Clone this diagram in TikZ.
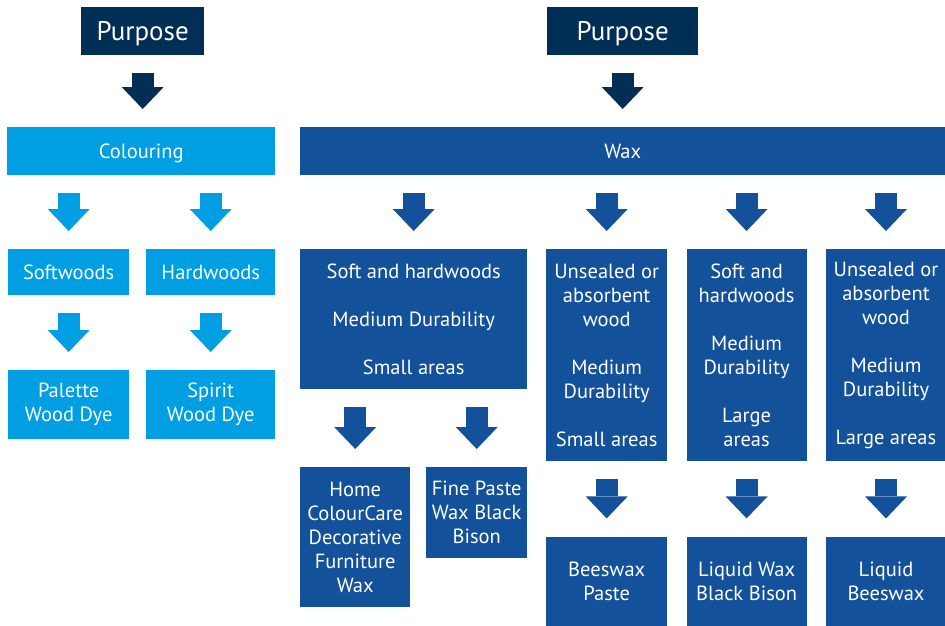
\documentclass[tikz,border=0pt]{standalone}
\usepackage{fontspec}
\setmainfont{PT Sans}
\usepackage{tikz}
\usetikzlibrary{arrows.meta, positioning}
\definecolor{purposeblue}{HTML}{002E55}
\definecolor{colourblue}{HTML}{009FE3}
\definecolor{waxblue}{HTML}{13529B}

\begin{document}
\begin{tikzpicture}[x=1pt,y=-1pt,node distance=19pt,
    box/.style={rectangle,inner sep=0pt,text=white,align=center,anchor=north west,
      font=\fontsize{20.5}{24}\selectfont},
    purpose/.style={box,fill=purposeblue,minimum height=48pt,text height=19pt,text depth=0pt,
      font=\fontsize{27}{32}\selectfont},
    header/.style={minimum height=48pt,text height=14pt,text depth=0pt},
    colourbox/.style={box,fill=colourblue},
    waxbox/.style={box,fill=waxblue},
    flow/.style={draw=#1,line width=22pt,shorten <=18pt,shorten >=18pt,
      -{Triangle[width=42pt,length=22pt,line width=0pt]}}]
  \useasboundingbox (0,0) rectangle (945,625);

  % top of both trees
  \node[purpose,minimum width=123pt] (purposeL) at (81,7) {Purpose};
  \node[purpose,minimum width=151pt] (purposeR) at (547,7) {Purpose};
  \node[colourbox,header,minimum width=268pt] (colouring) at (7,127) {Colouring};
  \node[waxbox,header,minimum width=645pt] (wax) at (300,127) {Wax};

  % colouring branch
  \node[colourbox,minimum width=121pt,minimum height=46pt] (softwoods) at (8,249) {Softwoods};
  \node[colourbox,minimum width=129pt,minimum height=46pt] (hardwoods) at (146,249) {Hardwoods};
  \node[colourbox,minimum width=121pt,minimum height=69pt] (palette) at (8,370) {Palette\\Wood Dye};
  \node[colourbox,minimum width=129pt,minimum height=69pt] (spirit) at (146,370) {Spirit\\Wood Dye};

  % wax branch
  \node[waxbox,minimum width=227pt,minimum height=140pt] (smallwax) at (300,249)
    {Soft and hardwoods\\[24pt]Medium Durability\\[24pt]Small areas};
  \node[waxbox,minimum width=121pt,minimum height=212pt] (unsealedsmall) at (546,249)
    {Unsealed or\\absorbent\\wood\\[24pt]Medium\\Durability\\[24pt]Small areas};
  \node[waxbox,minimum width=120pt,minimum height=212pt] (softlarge) [right=of unsealedsmall]
    {Soft and\\hardwoods\\[24pt]Medium\\Durability\\[24pt]Large\\areas};
  \node[waxbox,minimum width=120pt,minimum height=212pt] (unsealedlarge) [right=of softlarge]
    {Unsealed or\\absorbent\\wood\\[24pt]Medium\\Durability\\[24pt]Large areas};

  \node[waxbox,minimum width=110pt,minimum height=140pt] (homecare) at (300,467)
    {Home\\ColourCare\\Decorative\\Furniture\\Wax};
  \node[waxbox,minimum width=101pt,minimum height=91pt] (finepaste) at (426,467)
    {Fine Paste\\Wax Black\\Bison};
  \node[waxbox,minimum width=121pt,minimum height=89pt] (beeswax) [below=75pt of unsealedsmall]
    {Beeswax\\Paste};
  \node[waxbox,minimum width=120pt,minimum height=89pt] (liquidwax) [below=75pt of softlarge]
    {Liquid Wax\\Black Bison};
  \node[waxbox,minimum width=120pt,minimum height=89pt] (liquidbees) [below=75pt of unsealedlarge]
    {Liquid\\Beeswax};

  % block arrows
  \draw[flow=purposeblue] (purposeL.south) -- (purposeL.south |- colouring.north);
  \draw[flow=purposeblue] (purposeR.south) -- (purposeR.south |- wax.north);
  \draw[flow=colourblue] (colouring.south -| softwoods.north) -- (softwoods.north);
  \draw[flow=colourblue] (colouring.south -| hardwoods.north) -- (hardwoods.north);
  \draw[flow=colourblue] (softwoods.south) -- (palette.north);
  \draw[flow=colourblue] (hardwoods.south) -- (spirit.north);
  \draw[flow=waxblue] (wax.south -| smallwax.north) -- (smallwax.north);
  \draw[flow=waxblue] (wax.south -| unsealedsmall.north) -- (unsealedsmall.north);
  \draw[flow=waxblue] (wax.south -| softlarge.north) -- (softlarge.north);
  \draw[flow=waxblue] (wax.south -| unsealedlarge.north) -- (unsealedlarge.north);
  \draw[flow=waxblue] (smallwax.south -| homecare.north) -- (homecare.north);
  \draw[flow=waxblue] (smallwax.south -| finepaste.north) -- (finepaste.north);
  \draw[flow=waxblue] (unsealedsmall.south) -- (beeswax.north);
  \draw[flow=waxblue] (softlarge.south) -- (liquidwax.north);
  \draw[flow=waxblue] (unsealedlarge.south) -- (liquidbees.north);
\end{tikzpicture}
\end{document}
